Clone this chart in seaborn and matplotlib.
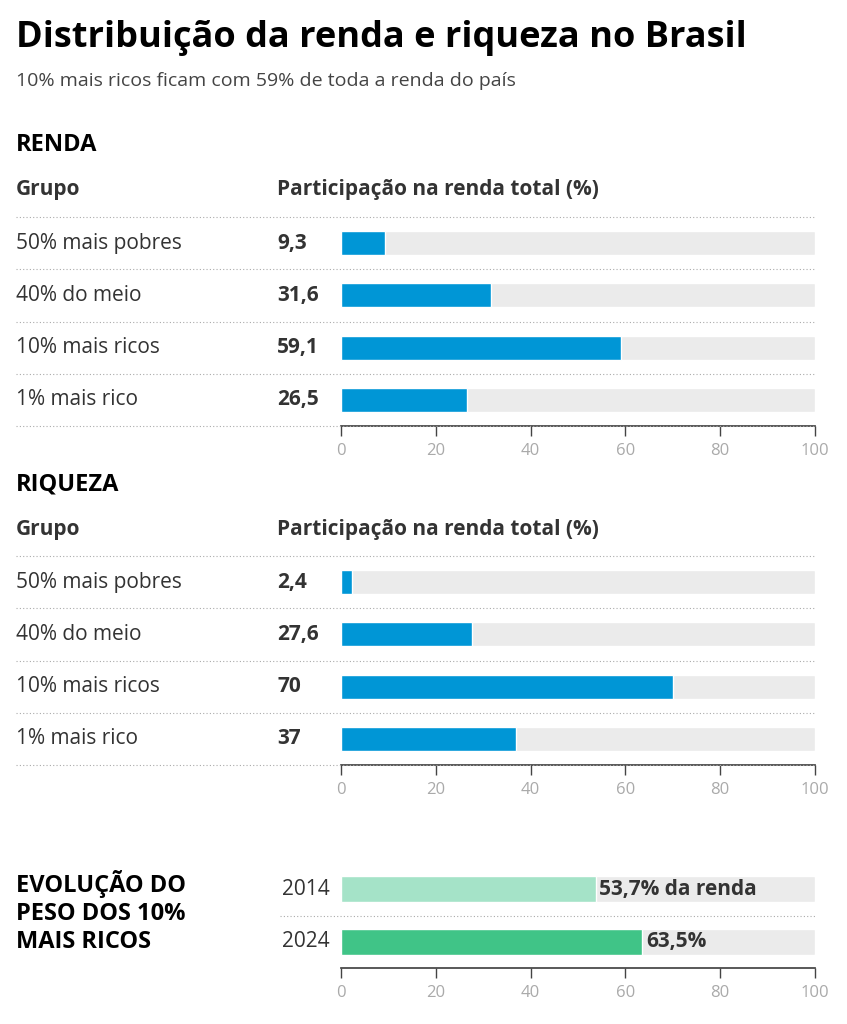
import matplotlib
matplotlib.use("Agg")
import matplotlib.pyplot as plt
import matplotlib.transforms as mtransforms
from matplotlib.lines import Line2D
import seaborn as sns

sns.set_theme(style="white")
plt.rcParams["font.family"] = ["Open Sans", "DejaVu Sans"]

grupos = ["50% mais pobres", "40% do meio", "10% mais ricos", "1% mais rico"]
renda = [9.3, 31.6, 59.1, 26.5]
riqueza = [2.4, 27.6, 70, 37]
renda_lbl = ["9,3", "31,6", "59,1", "26,5"]
riqueza_lbl = ["2,4", "27,6", "70", "37"]
anos = ["2014", "2024"]
peso = [53.7, 63.5]
peso_lbl = ["53,7% da renda", "63,5%"]

W, H = 847, 1024
BLUE = "#0096d6"
GREY_BG = "#ebebeb"
TXT = "#333333"
fig = plt.figure(figsize=(W / 100, H / 100), dpi=100)


def fx(px):
    return px / W


def fy(px):
    return 1 - px / H


def make_ax(top, bottom):
    return fig.add_axes([fx(341), fy(bottom), fx(815) - fx(341), fy(top) - fy(bottom)])


def style_ax(ax, n):
    ax.set_xlim(0, 100)
    ax.set_ylim(n - 0.5, -0.5)
    ax.set_xticks([0, 20, 40, 60, 80, 100])
    ax.set_yticks([])
    ax.set_xlabel("")
    ax.set_ylabel("")
    for s in ["top", "right", "left"]:
        ax.spines[s].set_visible(False)
    ax.spines["bottom"].set_color("#444444")
    ax.tick_params(axis="x", bottom=True, direction="out", length=7, width=1, color="#444444",
                   labelsize=12, labelcolor="#aaaaaa", pad=5)


def dotted(ax, y, x0=16):
    tr = mtransforms.blended_transform_factory(fig.transFigure, ax.transData)
    fig.add_artist(Line2D([fx(x0), fx(815)], [y, y], transform=tr, color="#aaaaaa",
                          lw=0.8, ls=(0, (1, 2))))


def section(top, bottom, values, labels, header):
    ax = make_ax(top, bottom)
    n = len(values)
    sns.barplot(x=[100] * n, y=list(range(n)), orient="h", color=GREY_BG, saturation=1,
                width=0.46, ax=ax, native_scale=True)
    sns.barplot(x=values, y=list(range(n)), orient="h", color=BLUE, saturation=1,
                width=0.46, ax=ax, native_scale=True)
    style_ax(ax, n)
    tr = mtransforms.blended_transform_factory(fig.transFigure, ax.transData)
    for i in range(n):
        ax.text(fx(16), i, grupos[i], transform=tr, fontsize=15, color=TXT, va="center")
        ax.text(fx(277), i, labels[i], transform=tr, fontsize=15, color=TXT,
                va="center", fontweight="bold")
    for j in range(n + 1):
        dotted(ax, j - 0.5)
    fig.text(fx(16), fy(top - 72), header, fontsize=17, fontweight="bold", color="black", va="center")
    fig.text(fx(16), fy(top - 27), "Grupo", fontsize=15, fontweight="bold", color=TXT, va="center")
    fig.text(fx(277), fy(top - 27), "Participação na renda total (%)", fontsize=15,
             fontweight="bold", color=TXT, va="center")


fig.text(fx(16), fy(38), "Distribuição da renda e riqueza no Brasil", fontsize=26,
         fontweight="bold", color="black", va="center")
fig.text(fx(16), fy(81), "10% mais ricos ficam com 59% de toda a renda do país", fontsize=14,
         color="#444444", va="center")

section(217, 426, renda, renda_lbl, "RENDA")
section(556, 765, riqueza, riqueza_lbl, "RIQUEZA")

# Evolução
ax = make_ax(863, 968)
sns.barplot(x=[100, 100], y=[0, 1], orient="h", color=GREY_BG, saturation=1,
            width=0.5, ax=ax, native_scale=True)
sns.barplot(x=peso, y=[0, 1], orient="h", hue=[0, 1], palette=["#a5e3c8", "#40c487"],
            saturation=1, legend=False, width=0.5, ax=ax, native_scale=True)
style_ax(ax, 2)
tr = mtransforms.blended_transform_factory(fig.transFigure, ax.transData)
for i in range(2):
    ax.text(fx(330), i, anos[i], transform=tr, fontsize=15, color=TXT, va="center", ha="right")
    ax.text(peso[i] + 0.8, i, peso_lbl[i], fontsize=15, color=TXT, va="center", fontweight="bold")
dotted(ax, 0.5, x0=280)
fig.text(fx(16), fy(912), "EVOLUÇÃO DO\nPESO DOS 10%\nMAIS RICOS", fontsize=17,
         fontweight="bold", color="black", va="center", linespacing=1.25)

fig.savefig("out.png", dpi=100, facecolor="white")
